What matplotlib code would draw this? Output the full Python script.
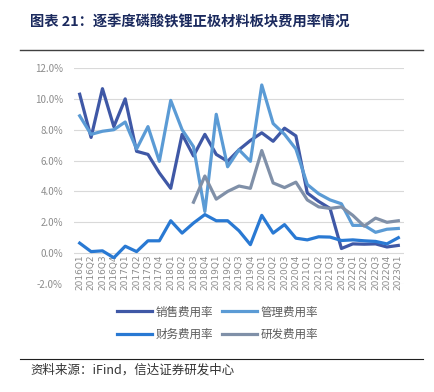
import numpy as np
import matplotlib
matplotlib.use('Agg')
import matplotlib.pyplot as plt
from matplotlib.ticker import FuncFormatter

plt.rcParams['font.family'] = ['Noto Sans CJK SC', 'DejaVu Sans']

quarters = [f'{y}Q{q}' for y in range(2016, 2023) for q in range(1, 5)] + ['2023Q1']

sales = [10.3, 7.5, 10.66, 8.2, 10.0, 6.6, 6.4, 5.2, 4.2, 7.7, 6.3, 7.7,
         6.4, 5.95, 6.7, 7.3, 7.8, 7.25, 8.1, 7.6, 3.9, 3.35, 2.9, 0.3,
         0.6, 0.58, 0.6, 0.4, 0.5]
admin = [8.9, 7.7, 7.9, 8.0, 8.5, 6.75, 8.2, 5.95, 9.9, 8.0, 6.9, 2.7,
         9.0, 5.6, 6.7, 5.95, 10.9, 8.4, 7.7, 6.75, 4.45, 3.85, 3.45, 3.2,
         1.8, 1.8, 1.35, 1.55, 1.6]
finance = [0.65, 0.1, 0.15, -0.3, 0.45, 0.1, 0.8, 0.8, 2.1, 1.3, 1.95, 2.5,
           2.1, 2.1, 1.45, 0.55, 2.45, 1.3, 1.85, 0.97, 0.86, 1.06, 1.04, 0.82,
           0.86, 0.8, 0.76, 0.6, 1.0]
rnd = [None] * 10 + [3.3, 5.0, 3.5, 4.0, 4.35, 4.2, 6.65, 4.55, 4.25, 4.6,
                     3.45, 3.0, 2.9, 3.0, 2.45, 1.75, 2.27, 2.0, 2.1]
rnd = [np.nan if v is None else v for v in rnd]

fig = plt.figure(figsize=(4.35, 3.92), dpi=100)
ax = fig.add_axes([74 / 435, 1 - 284 / 392, 330 / 435, 216 / 392])

x = np.arange(len(quarters))
lw = 2.3
l1, = ax.plot(x, sales, color='#3F58A6', lw=lw, label='销售费用率')
l2, = ax.plot(x, admin, color='#5B9BD5', lw=lw, label='管理费用率')
l3, = ax.plot(x, finance, color='#2979D3', lw=lw, label='财务费用率')
l4, = ax.plot(x, rnd, color='#8090A8', lw=lw, label='研发费用率')

ax.set_xlim(-0.5, len(quarters) - 0.5)
ax.set_ylim(-2, 12)
ax.set_yticks(np.arange(-2, 12.1, 2))
ax.yaxis.set_major_formatter(FuncFormatter(lambda v, p: f'{v:.1f}%'))
ax.grid(axis='y', color='#D9D9D9', lw=0.8)
ax.set_axisbelow(True)
for s in ax.spines.values():
    s.set_visible(False)
ax.set_xticks(x)
ax.set_xticklabels(quarters, rotation=90, fontsize=6.5, color='#8C8C8C',
                   family='DejaVu Sans')
ax.tick_params(axis='both', length=0, labelcolor='#8C8C8C')
ax.tick_params(axis='y', labelsize=7, pad=8)
ax.tick_params(axis='x', pad=1)
# x labels sit just below 0%
for lab in ax.get_xticklabels():
    lab.set_y(0.143)
    lab.set_verticalalignment('top')

leg = fig.legend(handles=[l1, l3, l2, l4], ncol=2, loc='center',
                 bbox_to_anchor=(0.5, 1 - 323 / 392), frameon=False,
                 fontsize=8.3, handlelength=3.0, columnspacing=0.8,
                 labelspacing=0.8, handletextpad=0.3)
for t in leg.get_texts():
    t.set_color('#595959')

fig.text(30 / 435, 1 - 22 / 392, '图表 21：逐季度磷酸铁锂正极材料板块费用率情况',
         fontsize=10.3, fontweight='bold', color='#1B2A5E', va='center')
fig.add_artist(plt.Line2D([20 / 435, 423 / 435], [1 - 50 / 392] * 2,
                          color='#404040', lw=1))
fig.add_artist(plt.Line2D([20 / 435, 423 / 435], [1 - 359 / 392] * 2,
                          color='#202020', lw=0.8))
fig.text(30 / 435, 1 - 370 / 392, '资料来源：iFind，信达证券研发中心',
         fontsize=9, color='#333333', va='center', style='italic')

fig.savefig('out.png', dpi=100)
